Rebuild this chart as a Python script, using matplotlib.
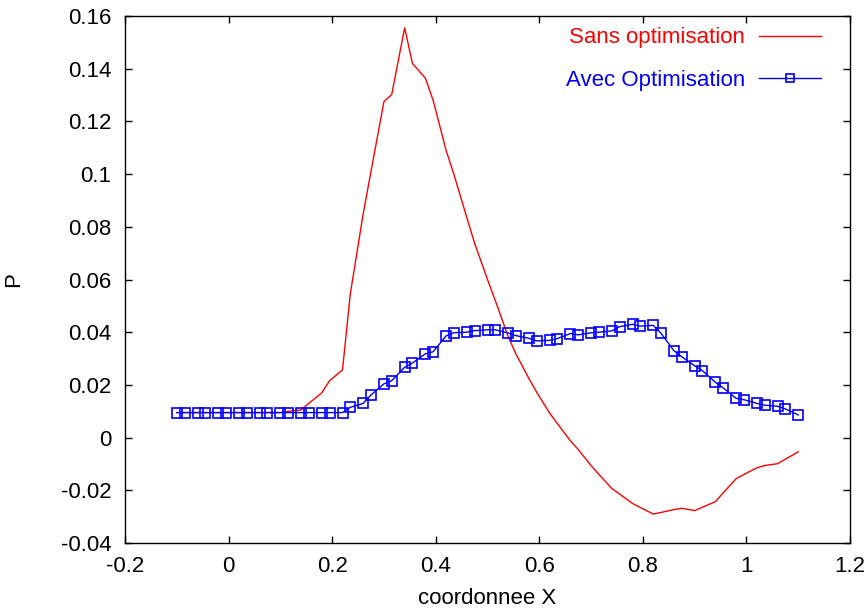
import matplotlib
matplotlib.use("Agg")
import matplotlib.pyplot as plt
from matplotlib.ticker import FuncFormatter, MultipleLocator

plt.rcParams['font.family'] = ['Liberation Sans', 'DejaVu Sans']

x = [-0.1, -0.085, -0.06, -0.045, -0.02, -0.005, 0.02, 0.035, 0.06, 0.075,
     0.1, 0.115, 0.14, 0.155, 0.18, 0.195, 0.22, 0.235, 0.26, 0.275,
     0.30, 0.315, 0.34, 0.355, 0.38, 0.395, 0.42, 0.435, 0.46, 0.475,
     0.50, 0.515, 0.54, 0.555, 0.58, 0.595, 0.62, 0.635, 0.66, 0.675,
     0.70, 0.715, 0.74, 0.755, 0.78, 0.795, 0.82, 0.835, 0.86, 0.875,
     0.90, 0.915, 0.94, 0.955, 0.98, 0.995, 1.02, 1.035, 1.06, 1.075, 1.10]

sans_opt = [0.0095, 0.0095, 0.0095, 0.0095, 0.0095, 0.0095, 0.0095, 0.0095, 0.0095, 0.0095,
            0.0095, 0.0100, 0.0105, 0.0130, 0.0170, 0.0216, 0.0257, 0.0545, 0.0850, 0.1010,
            0.1275, 0.1302, 0.1555, 0.1420, 0.1364, 0.1280, 0.1090, 0.1000, 0.0835, 0.0738,
            0.0600, 0.0520, 0.0383, 0.0317, 0.0224, 0.0172, 0.0093, 0.0053, -0.0012, -0.0045,
            -0.0106, -0.0139, -0.0193, -0.0214, -0.0250, -0.0265, -0.0290, -0.0284, -0.0273, -0.0268,
            -0.0277, -0.0264, -0.0243, -0.0210, -0.0156, -0.0140, -0.0115, -0.0106, -0.0099, -0.0082, -0.0054]

avec_opt = [0.0095, 0.0095, 0.0095, 0.0095, 0.0095, 0.0095, 0.0095, 0.0095, 0.0095, 0.0095,
            0.0095, 0.0095, 0.0095, 0.0095, 0.0095, 0.0095, 0.0095, 0.0115, 0.0130, 0.0162,
            0.0204, 0.0216, 0.0267, 0.0283, 0.0318, 0.0326, 0.0386, 0.0398, 0.0400, 0.0406,
            0.0409, 0.0409, 0.0397, 0.0387, 0.0377, 0.0367, 0.0369, 0.0376, 0.0395, 0.0390,
            0.0398, 0.0400, 0.0405, 0.0421, 0.0430, 0.0423, 0.0426, 0.0396, 0.0330, 0.0307,
            0.0273, 0.0254, 0.0210, 0.0189, 0.0149, 0.0144, 0.0130, 0.0123, 0.0119, 0.0109, 0.0086]

labels = ["Sans optimisation", "Avec Optimisation"]

fig = plt.figure(figsize=(8.64, 6.12), dpi=100)
ax = fig.add_axes([0.1447, 0.1127, 0.8391, 0.8612])

ax.plot(x, sans_opt, color='#ff0000', lw=1.0, label=labels[0])
ax.plot(x, avec_opt, color='#0000ff', lw=1.0, marker='s', markersize=6.5,
        markerfacecolor='none', markeredgecolor='#0000ff', markeredgewidth=1.2,
        label=labels[1])

ax.set_xlim(-0.2, 1.2)
ax.set_ylim(-0.04, 0.16)
ax.xaxis.set_major_locator(MultipleLocator(0.2))
ax.yaxis.set_major_locator(MultipleLocator(0.02))
fmt = FuncFormatter(lambda v, p: ('%g' % round(v, 6)))
ax.xaxis.set_major_formatter(fmt)
ax.yaxis.set_major_formatter(fmt)
ax.tick_params(direction='in', length=5, width=1, top=True, right=True,
               labelsize=16, colors='black')
ax.tick_params(axis='y', pad=10)
ax.tick_params(axis='x', pad=9)
for s in ax.spines.values():
    s.set_linewidth(1.0)

ax.set_xlabel("coordonnee X", fontsize=16)
ax.set_ylabel("P", fontsize=16)
ax.xaxis.set_label_coords(0.5, -0.085)
ax.yaxis.set_label_coords(-0.139, 0.5)

leg = ax.legend(loc='upper right', frameon=False, markerfirst=False,
                labelcolor='linecolor', fontsize=16, handlelength=2.8,
                labelspacing=0.95, handletextpad=0.6, borderaxespad=0.0,
                bbox_to_anchor=(0.972, 0.995))
for h in leg.legend_handles:
    h.set_markersize(5.5)

fig.savefig("out.png", dpi=100)
